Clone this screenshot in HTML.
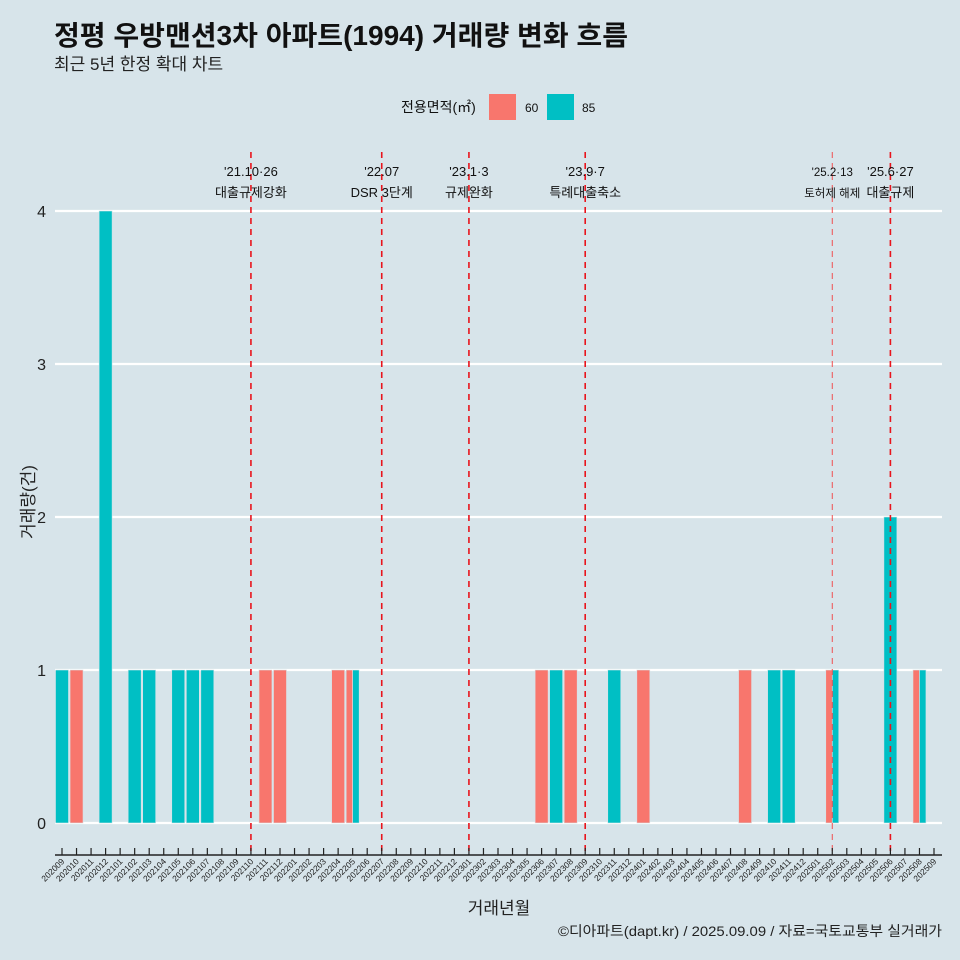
<!DOCTYPE html>
<html><head><meta charset="utf-8"><style>
body{margin:0;background:#d7e4ea;}
svg{display:block;font-family:"Liberation Sans","Noto Sans CJK KR",sans-serif;}
</style></head><body>
<svg id="c" width="960" height="960" viewBox="0 0 960 960">
<rect width="960" height="960" fill="#d7e4ea"/>
<text x="54" y="45" font-size="27.5" font-weight="bold" fill="#111" textLength="574" lengthAdjust="spacingAndGlyphs">정평 우방맨션3차 아파트(1994) 거래량 변화 흐름</text>
<text x="54" y="70" font-size="17" fill="#222">최근 5년 한정 확대 차트</text>
<g>
<text x="401" y="112" font-size="14" fill="#111">전용면적(㎡)</text>
<rect x="489" y="94" width="27" height="26" fill="#f8766d"/>
<text x="525" y="112" font-size="12" fill="#111">60</text>
<rect x="547" y="94" width="27" height="26" fill="#00bfc4"/>
<text x="582" y="112" font-size="12" fill="#111">85</text>
</g>
<g id="grid"></g><g id="bars"></g><g id="events"></g><g id="xaxis"></g>
<text x="499" y="914" font-size="17" text-anchor="middle" fill="#222">거래년월</text>
<text transform="translate(34,502) rotate(-90)" font-size="17" text-anchor="middle" fill="#222">거래량(건)</text>
<text x="942" y="936" font-size="14" text-anchor="end" fill="#222" textLength="384" lengthAdjust="spacingAndGlyphs">©디아파트(dapt.kr) / 2025.09.09 / 자료=국토교통부 실거래가</text>
</svg>
<script>
const months=[];for(let y=2020;y<=2025;y++)for(let m=1;m<=12;m++){const k=y*100+m;if(k>=202009&&k<=202509)months.push(String(k));}
const yTicks=[0,1,2,3,4];
const s60={"202010":1,"202111":1,"202112":1,"202204":1,"202205":1,"202306":1,"202308":1,"202401":1,"202408":1,"202502":1,"202508":1};
const s85={"202009":1,"202012":4,"202102":1,"202103":1,"202105":1,"202106":1,"202107":1,"202205":1,"202307":1,"202311":1,"202410":1,"202411":1,"202502":1,"202506":2,"202508":1};
const eventMonths=["202110","202207","202301","202309","202502","202506"];
const eventDates=["'21.10·26","'22.07","'23.1·3","'23.9·7","'25.2·13","'25.6·27"];
const eventLabels=["대출규제강화","DSR 3단계","규제완화","특례대출축소","토허제 해제","대출규제"];
const NS="http://www.w3.org/2000/svg";
const x0=62,step=(934-62)/60,bw=13;
const X=i=>x0+i*step;
const Y=v=>823-v*153;
function mk(t,a,p){const e=document.createElementNS(NS,t);for(const k in a)e.setAttribute(k,a[k]);p.appendChild(e);return e;}
const grid=document.getElementById('grid'),bars=document.getElementById('bars'),ev=document.getElementById('events'),xa=document.getElementById('xaxis');
yTicks.forEach(v=>{
 const l=mk('line',{x1:55,x2:942,y1:Y(v),y2:Y(v),stroke:'#fff','stroke-width':2.2},grid);
 
 
 const t=mk('text',{x:46,y:Y(v)+6,'font-size':16,'text-anchor':'end',fill:'#222'},grid);t.textContent=v;
 
 
});
months.forEach((m,i)=>{
 const a=s60[m]||0,b=s85[m]||0,cx=X(i);
 const segs=[];
 if(a&&b){segs.push([cx-bw/2,bw/2,a,'#f8766d','60']);segs.push([cx,bw/2,b,'#00bfc4','85']);}
 else if(a)segs.push([cx-bw/2,bw,a,'#f8766d','60']);
 else if(b)segs.push([cx-bw/2,bw,b,'#00bfc4','85']);
 segs.forEach(s=>{
  const r=mk('rect',{x:s[0],y:Y(s[2]),width:s[1],height:Y(0)-Y(s[2]),fill:s[3],stroke:'#d7e4ea','stroke-width':0.6},bars);
  
  
 });
 const tk=mk('line',{x1:cx,x2:cx,y1:855,y2:848,stroke:'#222','stroke-width':1.2},xa);
 
 
 const t=mk('text',{transform:`translate(${cx+3},862) rotate(-45)`,'font-size':8.5,'text-anchor':'end',fill:'#222'},xa);t.textContent=m;
 
 
});
const ax=mk('line',{x1:55,x2:942,y1:855,y2:855,stroke:'#222','stroke-width':1.5},xa);


eventMonths.forEach((m,k)=>{
 const cx=X(months.indexOf(m));const thin=m==='202502';
 const l=mk('line',{x1:cx,x2:cx,y1:152,y2:852,stroke:thin?'#f05050':'#e8141c','stroke-width':thin?1:1.6,'stroke-dasharray':'6,5'},ev);
 
 
 const fs=thin?11.5:13;
 const d=mk('text',{x:cx,y:176,'font-size':fs,'text-anchor':'middle',fill:'#111'},ev);d.textContent=eventDates[k];
 
 
 const t=mk('text',{x:cx,y:197,'font-size':fs,'text-anchor':'middle',fill:'#111'},ev);t.textContent=eventLabels[k];
 
 
});
</script>
</body></html>
